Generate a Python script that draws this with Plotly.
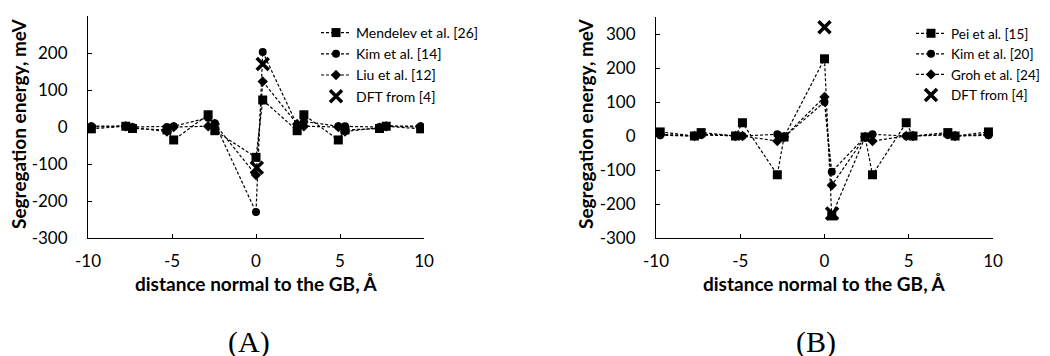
import plotly.graph_objects as go

# ---------------- data ----------------
# Panel A
x_A = [-9.8, -7.75, -7.35, -5.3, -4.9, -2.85, -2.45, 0.0, 0.4, 2.45, 2.85, 4.9, 5.3, 7.35, 7.75, 9.8]
mendelev_A = [-5, 2, -4, -8, -35, 33, -10, -82, 73, -10, 33, -35, -8, -4, 2, -5]
kim_A = [2, 3, 0, 0, 2, 25, 10, -230, 203, 5, 15, 2, 2, 0, 3, 2]
liu_A = [0, 2, -2, -12, 0, 2, 8, -130, 123, 8, 2, 0, -12, -2, 2, 0]
dft_x_A = [0.05, 0.4]
dft_A = [-110, 170]

# Panel B
x_B = [-9.75, -7.72, -7.32, -5.28, -4.87, -2.8, -2.4, 0.0, 0.43, 2.41, 2.85, 4.85, 5.25, 7.32, 7.75, 9.73]
pei_B = [12, 0, 10, 0, 39, -114, -3, 227, -235, -3, -114, 39, 0, 10, 0, 12]
kim_B = [2, 0, 3, 0, 0, 5, -3, 100, -105, -3, 5, 0, 0, 3, 0, 2]
groh_B = [5, 0, 5, 0, 0, -15, -3, 115, -145, -3, -15, 0, 0, 5, 0, 5]
dft_x_B = [0.0, 0.45]
dft_B = [320, -228]

x_ticks = [-10, -5, 0, 5, 10]
x_ticktext = ["-10", "-5", "0", "5", "10"]
y_ticks = [-300, -200, -100, 0, 100, 200, 300]
y_ticktext = ["-300", "-200", "-100", "0", "100", "200", "300"]

names_A = ["Mendelev et al. [26]", "Kim et al. [14]", "Liu et al. [12]", "DFT from [4]"]
names_B = ["Pei et al. [15]", "Kim et al. [20]", "Groh et al. [24]", "DFT from [4]"]

FONT = "Lato"
W, H = 1050, 356
OFF = 8  # page body margin offset

fig = go.Figure()

def add_panel(xv, series, dx, dy, names, xa, ya, leg):
    symbols = ["square", "circle", "diamond"]
    sizes = [9, 8, 8]
    for s, sym, sz, nm in zip(series, symbols, sizes, names[:3]):
        fig.add_trace(go.Scatter(
            x=xv, y=s, mode="lines+markers", name=nm,
            line=dict(color="black", width=1.2, dash="3px,2px"),
            marker=dict(symbol=sym, size=sz, color="black"),
            xaxis=xa, yaxis=ya, legend=leg))
    fig.add_trace(go.Scatter(
        x=dx, y=dy, mode="markers", name=names[3],
        marker=dict(symbol="x-thin", size=12, color="black",
                    line=dict(color="black", width=3.5)),
        xaxis=xa, yaxis=ya, legend=leg))

add_panel(x_A, [mendelev_A, kim_A, liu_A], dft_x_A, dft_A, names_A, "x", "y", "legend")
add_panel(x_B, [pei_B, kim_B, groh_B], dft_x_B, dft_B, names_B, "x2", "y2", "legend2")

def px_x(p):
    return (p - OFF) / W

def px_y(p):
    return 1 - (p - OFF) / H

axis_common = dict(showline=True, linecolor="black", linewidth=1, ticks="inside",
                   ticklen=4, tickcolor="black", showgrid=False, zeroline=False,
                   automargin=False,
                   tickfont=dict(family=FONT, size=17, color="black"))

fig.update_layout(
    width=W, height=H, margin=dict(l=0, r=0, t=0, b=0, autoexpand=False),
    paper_bgcolor="white", plot_bgcolor="white", showlegend=True,
    xaxis=dict(domain=[px_x(88), px_x(424)], range=[-10, 10], tickvals=x_ticks,
               ticktext=x_ticktext, anchor="y", ticklabelstandoff=8, **axis_common),
    yaxis=dict(domain=[px_y(238), px_y(16)], range=[-300, 300], tickvals=y_ticks,
               ticktext=y_ticktext, anchor="x", ticklabelstandoff=16, **axis_common),
    xaxis2=dict(domain=[px_x(656), px_x(993)], range=[-10, 10], tickvals=x_ticks,
                ticktext=x_ticktext, anchor="y2", ticklabelstandoff=8, **axis_common),
    yaxis2=dict(domain=[px_y(238), px_y(17)], range=[-300, 350], tickvals=y_ticks,
                ticktext=y_ticktext, anchor="x2", ticklabelstandoff=16, **axis_common),
    legend=dict(x=px_x(316), y=px_y(17), xanchor="left", yanchor="top",
                font=dict(family=FONT, size=14, color="black"), bgcolor="rgba(0,0,0,0)",
                tracegroupgap=0),
    legend2=dict(x=px_x(911), y=px_y(18), xanchor="left", yanchor="top",
                 font=dict(family=FONT, size=13.5, color="black"), bgcolor="rgba(0,0,0,0)",
                 tracegroupgap=0),
)

title_font = dict(family=FONT, size=19, color="black")
ann = []
for cx in [256, 824]:
    ann.append(dict(text="<b>distance normal to the GB, Å</b>", x=px_x(cx), y=px_y(283),
                    xref="paper", yref="paper", showarrow=False, font=title_font,
                    xanchor="center", yanchor="middle"))
for cx in [18, 585]:
    ann.append(dict(text="<b>Segregation energy, meV</b>", x=px_x(cx), y=px_y(124),
                    xref="paper", yref="paper", showarrow=False, textangle=-90,
                    font=dict(family=FONT, size=19, color="black"),
                    xanchor="center", yanchor="middle"))
for lbl, cx in [("(A)", 249), ("(B)", 816)]:
    ann.append(dict(text=lbl, x=px_x(cx), y=px_y(342), xref="paper", yref="paper",
                    showarrow=False, font=dict(family="Liberation Serif", size=30, color="black"),
                    xanchor="center", yanchor="middle"))
fig.update_layout(annotations=ann)

fig.write_html("out.html")
